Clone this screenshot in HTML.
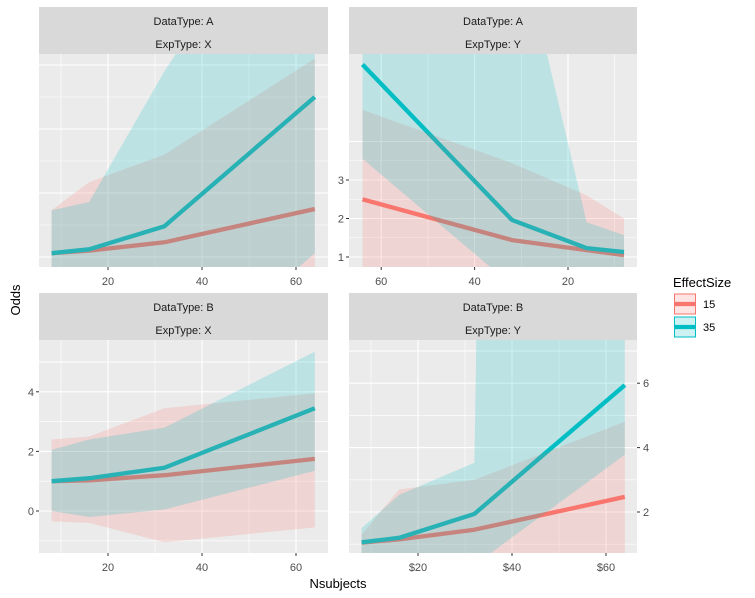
<!DOCTYPE html>
<html><head><meta charset="utf-8"><style>
html,body{margin:0;padding:0;background:#fff;overflow:hidden;width:755px;height:598px;}
svg{display:block;}
svg text{font-family:"Liberation Sans",Arial,sans-serif;}
</style></head><body>
<svg id="chart" width="755" height="598" viewBox="0 0 755 598" xmlns="http://www.w3.org/2000/svg"></svg>
<script>
const xCats = [8, 16, 32, 64];
// Panel A-X
const ax_line15 = [1.06, 1.1, 1.23, 1.75];
const ax_line35 = [1.06, 1.12, 1.48, 3.5];
const ax_up15 = [1.73, 2.17, 2.6, 4.1];
const ax_lo15 = [0, 0, 0, 0];
const ax_up35 = [1.73, 1.86, 3.9, 7.5];
const ax_lo35 = [0.5, 0.4, -1.0, 1.06];
// Panel A-Y
const ay_line15 = [1.05, 1.18, 1.44, 2.5];
const ay_line35 = [1.13, 1.23, 1.96, 6.0];
const ay_up15 = [2.0, 2.6, 3.44, 4.82];
const ay_lo15 = [0, 0, 0, 0];
const ay_up35 = [1.57, 1.9, 10.1, 15];
const ay_lo35 = [0, 0, 0.26, 3.55];
// Panel B-X
const bx_line15 = [1.0, 1.03, 1.2, 1.75];
const bx_line35 = [1.0, 1.1, 1.45, 3.45];
const bx_up15 = [2.4, 2.5, 3.45, 3.95];
const bx_lo15 = [-0.35, -0.4, -1.05, -0.55];
const bx_up35 = [2.05, 2.4, 2.8, 5.35];
const bx_lo35 = [0, -0.2, 0.05, 1.35];
// Panel B-Y
const by_line15 = [1.05, 1.15, 1.45, 2.47];
const by_line35 = [1.06, 1.2, 1.94, 5.94];
const by_up15 = [1.3, 2.7, 3.0, 4.8];
const by_lo15 = [0, 0, 0, 0];
const by_up35 = [1.5, 2.53, 3.53, 300];
const by_lo35 = [0, 0, 0.35, 3.78];
const ticksX = [20, 40, 60];
const ticksXminor = [10, 30, 50];
const ticksXDollar = ["$20", "$40", "$60"];
const ticksYAY = [1, 2, 3];
const ticksYBX = [0, 2, 4];
const ticksYBY = [2, 4, 6];

const NS = "http://www.w3.org/2000/svg";
const svg = document.getElementById('chart');
function mk(tag, attrs, parent){const e=document.createElementNS(NS,tag);for(const k in attrs)e.setAttribute(k,attrs[k]);(parent||svg).appendChild(e);return e;}
const RED="#F8766D", CYAN="#00BFC4";

function panel(p){
  const g = mk('g',{});
  
  
  const sx = v => p.rev ? p.x0 - (v - 20) * p.kx : p.x0 + (v - 20) * p.kx;
  const sy = v => p.y0 - (v - p.yv0) * p.ky;
  const st = mk('rect',{x:p.L,y:p.T,width:p.R-p.L,height:47,fill:'#D9D9D9'},g);
  
  
  const t1 = mk('text',{x:(p.L+p.R)/2,y:p.T+18,'font-size':'11','text-anchor':'middle',fill:'#1A1A1A'},g);
  t1.textContent = p.s1;
  
  
  const t2 = mk('text',{x:(p.L+p.R)/2,y:p.T+41,'font-size':'11','text-anchor':'middle',fill:'#1A1A1A'},g);
  t2.textContent = p.s2;
  
  
  const top = p.T+47, bot = p.B;
  const bg = mk('rect',{x:p.L,y:top,width:p.R-p.L,height:bot-top,fill:'#EBEBEB'},g);
  
  
  const clipId='c'+p.name;
  const cp = mk('clipPath',{id:clipId},g); mk('rect',{x:p.L,y:top,width:p.R-p.L,height:bot-top},cp);
  const inner = mk('g',{'clip-path':'url(#'+clipId+')'},g);
  p.ygrid.forEach((v,i)=>{const y=sy(v);const l=mk('line',{x1:p.L,x2:p.R,y1:y,y2:y,stroke:'#fff','stroke-width':(i%2?0.6:1.1)},inner);});
  ticksXminor.forEach(v=>{const x=sx(v);const l=mk('line',{x1:x,x2:x,y1:top,y2:bot,stroke:'#fff','stroke-width':0.6},inner);});
  ticksX.forEach(v=>{const x=sx(v);const l=mk('line',{x1:x,x2:x,y1:top,y2:bot,stroke:'#fff','stroke-width':1.1},inner);});
  const pts = arr => xCats.map((c,i)=>sx(c).toFixed(1)+','+sy(arr[i]).toFixed(1));
  [[p.l15,RED,'line-effect-15'],[p.l35,CYAN,'line-effect-35']].forEach(([a,c,n])=>{
    const l=mk('polyline',{points:pts(a).join(' '),fill:'none',stroke:c,'stroke-width':4.3,'stroke-linejoin':'round'},inner);
    });
  [[p.u15,p.d15,RED,'ribbon-effect-15'],[p.u35,p.d35,CYAN,'ribbon-effect-35']].forEach(([u,d,c,n])=>{
    const poly=pts(u).concat(pts(d).reverse());
    const r=mk('polygon',{points:poly.join(' '),fill:c,'fill-opacity':0.2},inner);
    });
  ticksX.forEach((v,i)=>{const x=sx(v);mk('line',{x1:x,x2:x,y1:bot,y2:bot+3,stroke:'#333','stroke-width':1},g);
    const t=mk('text',{x:x,y:bot+18,'font-size':'11','text-anchor':'middle',fill:'#4D4D4D'},g);
    t.textContent = p.dollar ? ticksXDollar[i] : String(v);
    });
  if(p.yt){p.yt.forEach(v=>{const y=sy(v);
    if(p.right){mk('line',{x1:p.R,x2:p.R+3,y1:y,y2:y,stroke:'#333'},g);
      const t=mk('text',{x:p.R+6,y:y+4,'font-size':'11',fill:'#4D4D4D'},g);t.textContent=String(v);
      }
    else{mk('line',{x1:p.L-3,x2:p.L,y1:y,y2:y,stroke:'#333'},g);
      const t=mk('text',{x:p.L-5,y:y+4,'font-size':'11','text-anchor':'end',fill:'#4D4D4D'},g);t.textContent=String(v);
      }});}
}
panel({name:'panel-a-x',L:39,R:328,T:7,B:267,x0:108,kx:4.7,rev:false,y0:257,yv0:1,ky:64,
  ygrid:[1,1.5,2,2.5,3,3.5,4],l15:ax_line15,l35:ax_line35,u15:ax_up15,d15:ax_lo15,u35:ax_up35,d35:ax_lo35,s1:'DataType: A',s2:'ExpType: X'});
panel({name:'panel-a-y',L:349,R:637,T:7,B:267,x0:568,kx:4.67,rev:true,y0:257,yv0:1,ky:38.5,
  ygrid:[1,1.5,2,2.5,3,3.5,4],yt:ticksYAY,l15:ay_line15,l35:ay_line35,u15:ay_up15,d15:ay_lo15,u35:ay_up35,d35:ay_lo35,s1:'DataType: A',s2:'ExpType: Y'});
panel({name:'panel-b-x',L:39,R:328,T:293,B:553,x0:108,kx:4.7,rev:false,y0:511,yv0:0,ky:29.8,
  ygrid:[0,-1,2,1,4,3,5],yt:ticksYBX,l15:bx_line15,l35:bx_line35,u15:bx_up15,d15:bx_lo15,u35:bx_up35,d35:bx_lo35,s1:'DataType: B',s2:'ExpType: X'});
panel({name:'panel-b-y',L:349,R:637,T:293,B:553,x0:418,kx:4.7,rev:false,dollar:true,right:true,y0:512,yv0:2,ky:32.2,
  ygrid:[2,1,4,3,6,5,7],yt:ticksYBY,l15:by_line15,l35:by_line35,u15:by_up15,d15:by_lo15,u35:by_up35,d35:by_lo35,s1:'DataType: B',s2:'ExpType: Y'});

const yt=mk('text',{x:20,y:300,'font-size':'13','text-anchor':'middle',fill:'#000',transform:'rotate(-90 20 300)'});
yt.textContent='Odds';


const xt=mk('text',{x:338,y:588,'font-size':'13','text-anchor':'middle',fill:'#000'});
xt.textContent='Nsubjects';


const lt=mk('text',{x:673,y:287,'font-size':'13',fill:'#000'});
lt.textContent='EffectSize';


[['15',RED,294],['35',CYAN,317]].forEach(([lab,c,y])=>{
  const g=mk('g',{});
  
  
  mk('rect',{x:674.5,y:y,width:21,height:20,fill:c,'fill-opacity':0.2,stroke:c,'stroke-width':1},g);
  mk('line',{x1:675,x2:695,y1:y+10,y2:y+10,stroke:c,'stroke-width':4.3},g);
  const t=mk('text',{x:703,y:y+14,'font-size':'11',fill:'#000'},g);t.textContent=lab;
});
</script>
</body></html>
